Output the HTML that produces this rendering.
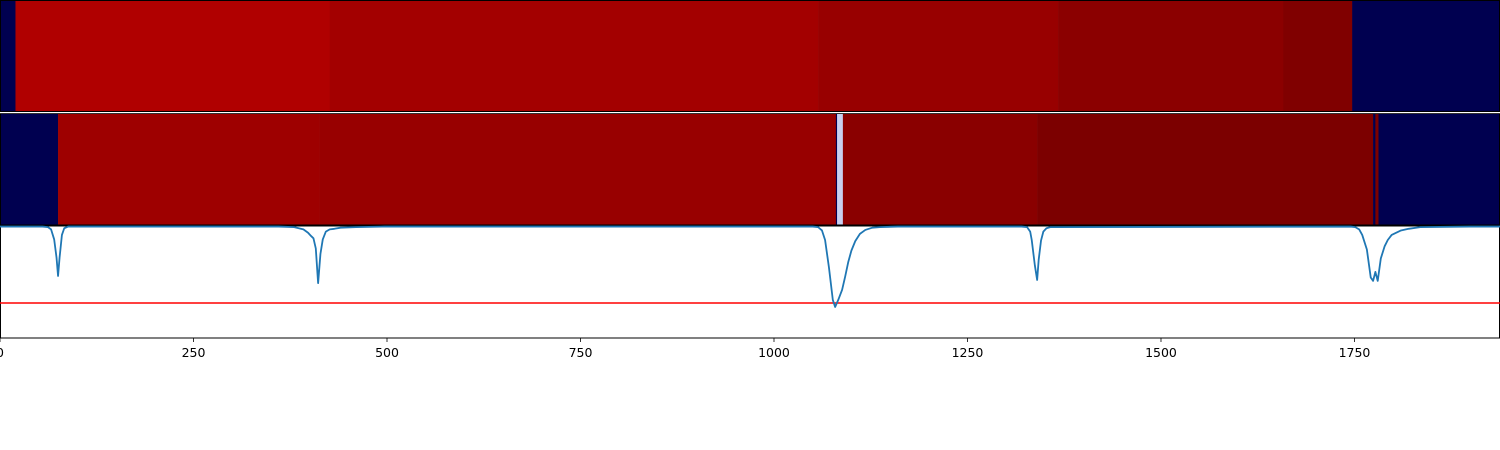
<!DOCTYPE html>
<html><head><meta charset="utf-8"><style>
html,body{margin:0;padding:0;background:#fff;}
svg{display:block;font-family:"DejaVu Sans","Liberation Sans",sans-serif;}
</style></head><body>
<svg id="chart" width="1500" height="450"></svg>
<script>
const segTop = [[0,20,'#000050'],[20,426,'#b00000'],[426,1057,'#a30000'],[1057,1367,'#980000'],[1367,1658,'#8b0000'],[1658,1747,'#800000'],[1747,1940,'#000050']];
const segMid = [[0,75,'#000050'],[75,413,'#9e0000'],[413,1080,'#980000'],[1080,1081.5,'#000050'],[1081.5,1089,'#c8d0f0'],[1089,1340,'#8a0000'],[1340,1774,'#7c0000'],[1774,1777,'#000050'],[1777,1781,'#7c0000'],[1781,1940,'#000050']];
const lineX = [0,55,62,66,70,73,75,77,80,83,88,360,380,392,398,402,405,408,411,414,417,421,426,432,440,460,497,1050,1057,1062,1066,1071,1076,1079,1083,1088,1092,1096,1100,1105,1111,1118,1127,1137,1160,1320,1327,1331,1333,1337,1340,1342,1345,1348,1352,1357,1745,1751,1756,1760,1766,1771,1774,1777,1780,1784,1789,1793,1798,1804,1810,1820,1835,1899,1938];
const lineV = [0.995,0.995,0.99,0.97,0.88,0.72,0.554,0.72,0.92,0.98,0.995,0.995,0.99,0.97,0.94,0.91,0.89,0.8,0.49,0.75,0.88,0.95,0.97,0.975,0.985,0.99,0.995,0.995,0.99,0.96,0.875,0.63,0.34,0.277,0.34,0.43,0.55,0.68,0.78,0.865,0.93,0.965,0.985,0.99,0.995,0.995,0.99,0.95,0.875,0.65,0.518,0.7,0.87,0.95,0.98,0.99,0.995,0.99,0.97,0.92,0.79,0.54,0.51,0.59,0.51,0.71,0.82,0.875,0.92,0.94,0.96,0.975,0.99,0.995,0.995];
const threshold = [0.3125];
const xTicks = [0,250,500,750,1000,1250,1500,1750];
const xMax = 1938;
const NS='http://www.w3.org/2000/svg';
const svg=document.getElementById('chart');
const sx=v=>v*1500/xMax;
const sy=v=>338-v*112;
function mk(t,a){const e=document.createElementNS(NS,t);for(const k in a)e.setAttribute(k,a[k]);svg.appendChild(e);return e;}
function band(segs,y0,h,name){
  segs.forEach(s=>{
    const r=mk('rect',{x:sx(s[0]),y:y0,width:sx(s[1])-sx(s[0])+0.3,height:h,fill:s[2]});
    
    
  });
}
band(segTop,0,112,'top-band');
band(segMid,113,112,'middle-band');
let f=mk('rect',{x:0.5,y:0.5,width:1499,height:111,fill:'none',stroke:'#000','stroke-width':1});


f=mk('rect',{x:0.5,y:113.5,width:1499,height:111.5,fill:'none',stroke:'#000','stroke-width':1});


let sep=mk('rect',{x:0,y:112,width:1500,height:1.2,fill:'#fff'});


f=mk('rect',{x:0.5,y:226,width:1499,height:112,fill:'none',stroke:'#000','stroke-width':1});


let th=mk('line',{x1:0,x2:1500,y1:sy(threshold[0]),y2:sy(threshold[0]),stroke:'#ff0000','stroke-width':1.6});


let d=lineX.map((x,i)=>(i?'L':'M')+sx(x).toFixed(2)+','+sy(lineV[i]).toFixed(2)).join('');
let p=mk('path',{d:d,fill:'none',stroke:'#1f77b4','stroke-width':1.8,'stroke-linejoin':'round'});


xTicks.forEach(t=>{
  const x=sx(t);
  const l=mk('line',{x1:x,x2:x,y1:338,y2:342,stroke:'#000','stroke-width':0.8});
  
  
  const tx=mk('text',{x:x,y:357,'font-size':12.5,'text-anchor':'middle',fill:'#000'});
  tx.textContent=t;
  
  
});
</script>
</body></html>
